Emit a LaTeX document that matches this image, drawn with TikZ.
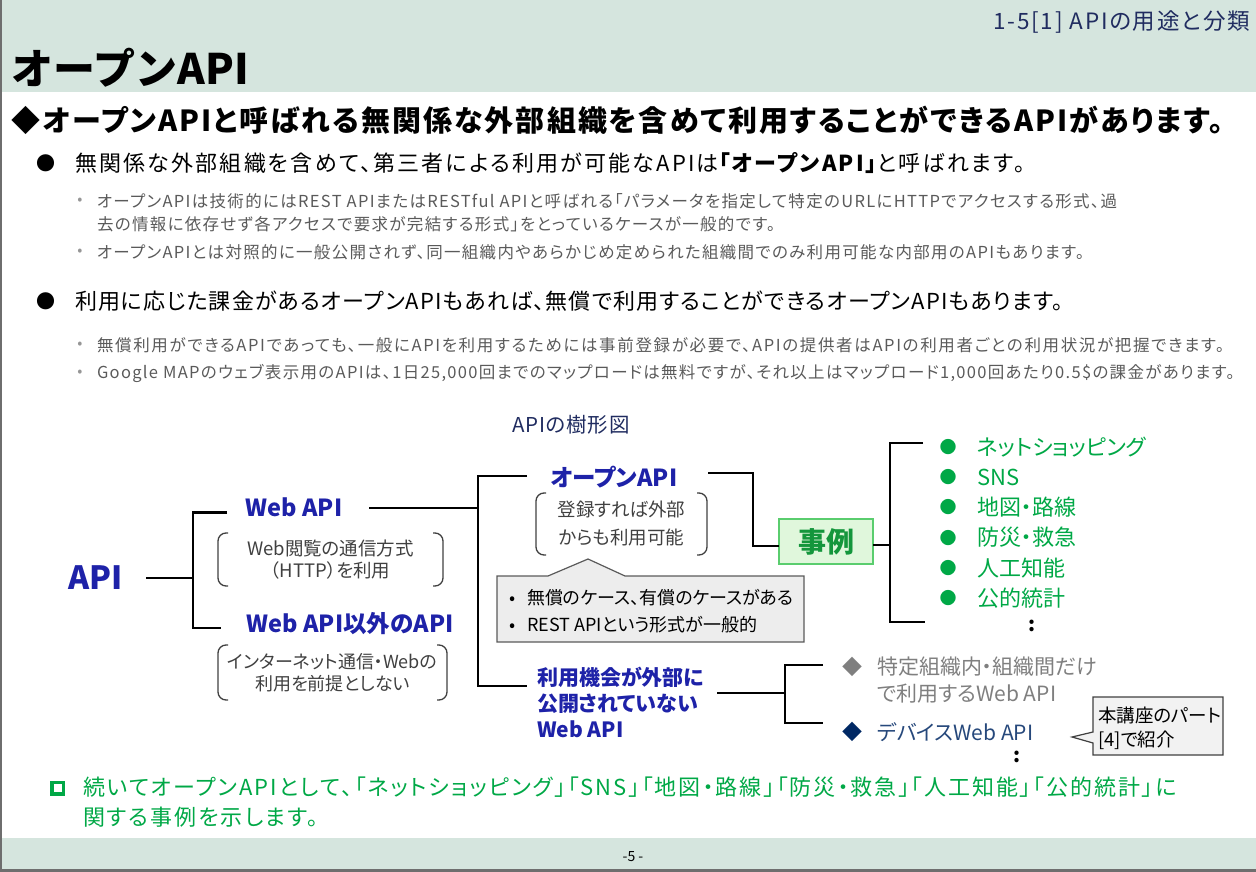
\documentclass[tikz,border=0pt]{standalone}
\usepackage{fontspec}
\setmainfont{Noto Sans CJK JP}[RawFeature=+palt]
% full-width kana for the page title
\newfontfamily\wfont{Noto Sans CJK JP}
\newcommand\myfs[2]{\fontsize{#1pt}{#2pt}\selectfont}
\newcommand\tracked[1]{\addfontfeature{LetterSpace=#1}}

\definecolor{band}{RGB}{213,229,222}
\definecolor{edge}{RGB}{110,110,110}
\definecolor{navy}{RGB}{32,44,96}
\definecolor{tblue}{RGB}{30,34,168}
\definecolor{subgray}{RGB}{90,90,90}
\definecolor{dotgray}{RGB}{150,150,150}
\definecolor{txtgray}{RGB}{64,64,64}
\definecolor{ggray}{RGB}{127,127,127}
\definecolor{gr}{RGB}{0,168,70}
\definecolor{jtext}{RGB}{20,150,60}
\definecolor{jfill}{RGB}{224,247,220}
\definecolor{jedge}{RGB}{90,205,110}
\definecolor{devnavy}{RGB}{0,40,100}
\definecolor{cbfill}{RGB}{237,237,237}
\definecolor{cbedge}{RGB}{90,90,90}
\definecolor{nfill}{RGB}{242,242,242}

% bracket-shaped parentheses around a node
\newcommand\parenpair[1]{%
  \draw[paren] ([xshift=10pt]#1.north west) -- (#1.north west) -- (#1.south west) -- ([xshift=10pt]#1.south west);
  \draw[paren] ([xshift=-10pt]#1.north east) -- (#1.north east) -- (#1.south east) -- ([xshift=-10pt]#1.south east);}

\begin{document}
\begin{tikzpicture}[x=1pt,y=-1pt,
  every node/.style={inner sep=0pt,outer sep=0pt},
  lw/.style={anchor=west},
  bigdot/.style={font=\myfs{19}{22}},
  subdot/.style={font=\myfs{15}{18},text=dotgray},
  subtxt/.style={anchor=west,align=left,text=subgray},
  tree/.style={line width=2.8pt,line join=miter},
  label/.style={font=\bfseries\myfs{23.5}{27},text=tblue},
  paren/.style={line width=1.3pt,draw=txtgray,rounded corners=8pt},
  parentxt/.style={align=center,text=txtgray},
  exdot/.style={font=\myfs{17}{20},text=gr},
  extxt/.style={anchor=west,font=\myfs{22}{26},text=gr},
  jirei/.style={draw=jedge,fill=jfill,line width=1.3pt,minimum width=94pt,minimum height=45pt,
                font=\bfseries\myfs{28}{32},text=jtext},
  cbox/.style={fill=cbfill,draw=cbedge,line width=1.2pt},
  nbox/.style={fill=nfill,draw=black!75,line width=1.2pt},
  vdots/.style={font=\bfseries\myfs{20}{22}}]

\useasboundingbox (0,0) rectangle (1256,872);

% page frame
\fill[band] (0,0) rectangle (1256,92);
\fill[band] (0,838) rectangle (1256,872);
\draw[line width=3pt,draw=edge] (0,870.5) -- (1256,870.5);
\draw[line width=2pt,draw=edge] (1,0) -- (1,872);

% header and lead
\node[anchor=east,text=navy,font=\myfs{22.5}{26}\tracked{8}] (pgttl) at (1250,22) {1-5[1] APIの用途と分類};
\node[lw,font=\wfont\bfseries\myfs{42}{50}] (title) at (12,68) {オープンAPI};
\node[lw,font=\bfseries\myfs{29}{34}\tracked{7}] (lead) at (12,120) {◆オープンAPIと呼ばれる無関係な外部組織を含めて利用することができるAPIがあります。};

% first point
\node[bigdot] (b1) at (46,163) {●};
\node[lw,font=\myfs{22}{26}\tracked{10}] (p1) at (75,163) {無関係な外部組織を含めて、第三者による利用が可能なAPIは{\bfseries「オープンAPI」}と呼ばれます。};
\node[subdot] (d1) at (80,201) {•};
\node[subtxt,font=\myfs{16.5}{23}\tracked{8}] (s1) at (97,212.5) {オープンAPIは技術的にはREST APIまたはRESTful APIと呼ばれる「パラメータを指定して特定のURLにHTTPでアクセスする形式、過\\去の情報に依存せず各アクセスで要求が完結する形式」をとっているケースが一般的です。};
\node[subdot] (d2) at (80,252) {•};
\node[subtxt,font=\myfs{16.5}{23}\tracked{8}] (s2) at (97,252) {オープンAPIとは対照的に一般公開されず、同一組織内やあらかじめ定められた組織間でのみ利用可能な内部用のAPIもあります。};

% second point
\node[bigdot] (b2) at (46,301) {●};
\node[lw,font=\myfs{22}{26}\tracked{5}] (p2) at (75,301) {利用に応じた課金があるオープンAPIもあれば、無償で利用することができるオープンAPIもあります。};
\node[subdot] (d3) at (80,345) {•};
\node[subtxt,font=\myfs{16.5}{23}\tracked{10}] (s3) at (97,345) {無償利用ができるAPIであっても、一般にAPIを利用するためには事前登録が必要で、APIの提供者はAPIの利用者ごとの利用状況が把握できます。};
\node[subdot] (d4) at (80,373) {•};
\node[subtxt,font=\myfs{16.5}{23}\tracked{8}] (s4) at (97,373) {Google MAPのウェブ表示用のAPIは、1日25,000回までのマップロードは無料ですが、それ以上はマップロード1,000回あたり0.5\$の課金があります。};

% tree of APIs
\node[lw,text=navy,font=\myfs{20.5}{24}\tracked{4}] (treettl) at (512,425) {APIの樹形図};
\node[font=\bfseries\myfs{32}{36},text=tblue] (api) at (96,578) {API};
\node[label] (webapi) at (294,507) {Web API};
\node[parentxt,font=\myfs{18.5}{22.5},minimum width=225pt,minimum height=53pt] (wnote) at (330.5,559.5) {Web閲覧の通信方式\\（HTTP）を利用};
\parenpair{wnote}
\node[label] (other) at (350,624) {Web API以外のAPI};
\node[parentxt,font=\myfs{18}{22.5},minimum width=229pt,minimum height=55pt] (onote) at (332.5,672.5) {インターネット通信・Webの\\利用を前提としない};
\parenpair{onote}

\node[label] (open) at (614,477) {オープンAPI};
\node[parentxt,font=\myfs{18.5}{28},minimum width=171pt,minimum height=62pt] (opnote) at (621.5,524) {登録すれば外部\\からも利用可能};
\parenpair{opnote}

% callout with the features of open APIs
\node[minimum width=307pt,minimum height=66pt] (cb) at (650.5,609) {};
\filldraw[cbox] (cb.north west) -- ([xshift=51pt]cb.north west) -- ([xshift=91pt,yshift=17pt]cb.north west)
  -- ([xshift=128pt]cb.north west) -- (cb.north east) -- (cb.south east) -- (cb.south west) -- cycle;
\node[lw,align=left,font=\myfs{18}{27}] (cbt) at (509,611.5) {•\kern 12pt無償のケース、有償のケースがある\\•\kern 12pt REST APIという形式が一般的};

\node[jirei] (jirei) at (826,541.5) {事例};

\foreach \t [count=\i] in {ネットショッピング,SNS,地図・路線,防災・救急,人工知能,公的統計}{
  \node[exdot] (exd\i) at (948,{447+30.2*(\i-1)}) {●};
  \node[extxt] (ex\i) at (977,{447+30.2*(\i-1)}) {\t};
}
\node[vdots] (more1) at (1032,626) {:};

\node[lw,align=left,font=\bfseries\myfs{21}{26},text=tblue] (priv) at (537,702) {利用機会が外部に\\公開されていない\\Web API};

\node[font=\myfs{20}{22},text=ggray] (dm1) at (852,667) {◆};
\node[lw,align=left,font=\myfs{21}{27},text=ggray] (inner) at (877,680.5) {特定組織内・組織間だけ\\で利用するWeb API};
\node[font=\myfs{20}{22},text=devnavy] (dm2) at (852,732) {◆};
\node[lw,font=\myfs{21}{25},text=devnavy!85!white] (device) at (877,732) {デバイスWeb API};
\node[vdots] (more2) at (1017,757) {:};

% note on part 4
\node[minimum width=130pt,minimum height=58pt] (n4) at (1158,726) {};
\filldraw[nbox] (n4.north west) -- (n4.north east) -- (n4.south east) -- (n4.south west)
  -- ([yshift=12pt]n4.south west) -- ([xshift=-21pt,yshift=18pt]n4.south west) -- ([yshift=23pt]n4.south west) -- cycle;
\node[lw,align=left,font=\myfs{18.5}{24}] (n4t) at (1098,728) {本講座のパート\\{}[4]で紹介};

% connectors
\coordinate (apiR) at (146,578);   \coordinate (j1) at (193,578);
\coordinate (j1t) at (227,512.5);  \coordinate (j1b) at (221,628);
\coordinate (webR) at (369,508);   \coordinate (j2) at (478,508);
\coordinate (j2t) at (527,476);    \coordinate (j2b) at (527,686);
\coordinate (openR) at (708,473);  \coordinate (j3) at (753,473);
\coordinate (j4) at (890,545);
\coordinate (j4t) at (923,443);    \coordinate (j4b) at (925,622);
\coordinate (privR) at (717,693);  \coordinate (j5) at (785,693);
\coordinate (j5t) at (823,665);    \coordinate (j5b) at (823,723);

\draw[tree] (apiR) -- (j1);
\draw[tree] (j1t) -| (j1 |- j1b) -- (j1b);
\draw[tree] (webR) -- (j2);
\draw[tree] (j2t) -| (j2 |- j2b) -- (j2b);
\draw[tree] (openR) -- (j3) |- ([yshift=-4.5pt]jirei.west);
\draw[tree] ([yshift=-3.5pt]jirei.east) -- (j4);
\draw[tree] (j4t) -| (j4 |- j4b) -- (j4b);
\draw[tree] (privR) -- (j5);
\draw[tree] (j5t) -| (j5 |- j5b) -- (j5b);

% closing remark
\node[draw=gr,line width=3.5pt,fill=white,minimum size=11.5pt] (sq) at (57.5,788) {};
\node[lw,align=left,font=\myfs{22}{30}\tracked{9},text=gr] (concl) at (83,802) {続いてオープンAPIとして、「ネットショッピング」「SNS」「地図・路線」「防災・救急」「人工知能」「公的統計」に\\関する事例を示します。};

\node[font=\myfs{14}{16}] (pg) at (633,857) {-5 -};
\end{tikzpicture}
\end{document}
